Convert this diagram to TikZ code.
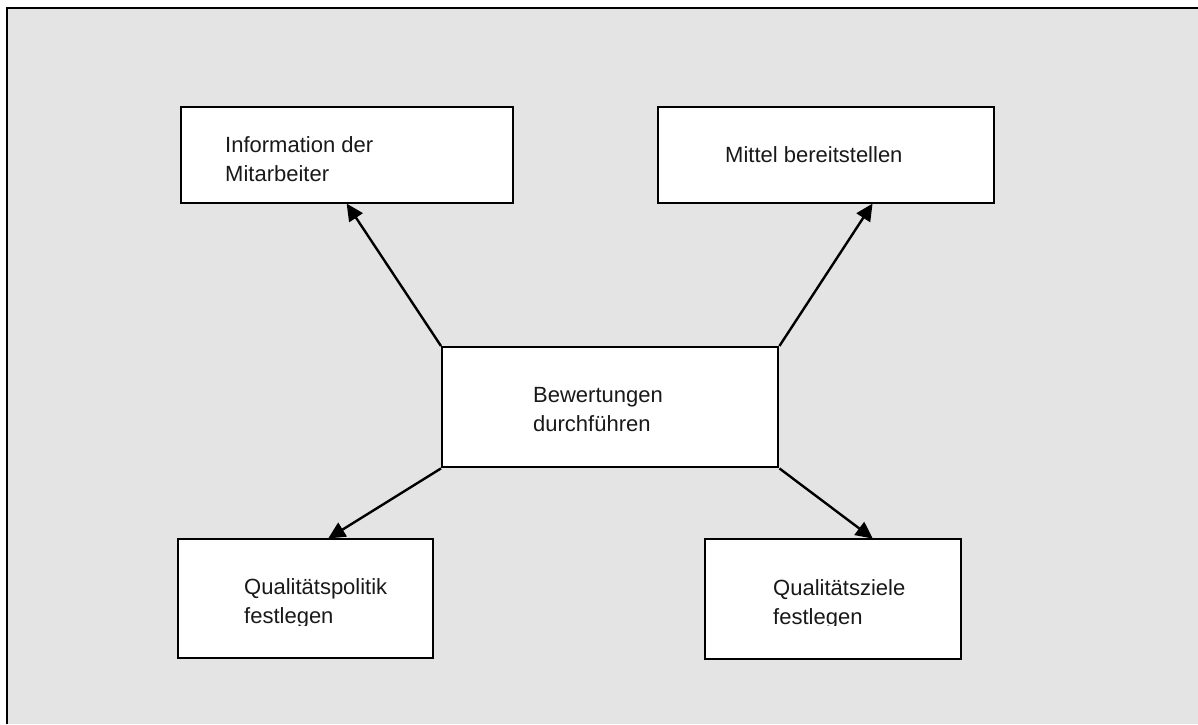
\documentclass[tikz,border=0pt]{standalone}
\usepackage{fontspec}
\setmainfont{Liberation Sans}
\usetikzlibrary{arrows.meta}
\definecolor{bggray}{RGB}{228,228,228}
\tikzset{
  box/.style={draw=black, line width=2.4pt, fill=white, rectangle, inner sep=0pt},
  lbl/.style={anchor=base west, inner sep=0pt, align=left, font=\fontsize{22}{29}\selectfont, text=black!90},
  arr/.style={line width=2.4pt, -{Triangle[length=17pt,width=16pt]}, shorten >=-1pt}
}
\begin{document}
\begin{tikzpicture}[x=1pt,y=-1pt]
\useasboundingbox (0,0) rectangle (1198,724);
\fill[bggray] (7,8) rectangle (1198,724);
\draw[line width=2.4pt] (7,724) -- (7,8) -- (1198,8);

% boxes
\node[box, minimum width=332pt, minimum height=96pt, anchor=north west] (b1) at (180,106) {};
\node[box, minimum width=336pt, minimum height=96pt, anchor=north west] (b2) at (657,106) {};
\node[box, minimum width=336pt, minimum height=120pt, anchor=north west] (c) at (441,346) {};
\node[box, minimum width=255pt, minimum height=119pt, anchor=north west] (b3) at (177,538) {};
\node[box, minimum width=256pt, minimum height=120pt, anchor=north west] (b4) at (704,538) {};

% texts (base anchor = baseline of last line)
\node[lbl] (t1) at (225,181.7) {Information der\\Mitarbeiter};
\node[lbl] (t2) at (725,162.7) {Mittel bereitstellen};
\node[lbl] (tc) at (533,431.7) {Bewertungen\\durchführen};
\begin{scope}
\clip (0,0) rectangle (1198,625);
\node[lbl] (t3) at (244,623) {Qualitätspolitik\\festlegen};
\node[lbl] (t4) at (773,624) {Qualitätsziele\\festlegen};
\end{scope}

% connectors
\draw[arr] (c.north west) -- (b1.south);
\draw[arr] (c.north east) -- ([xshift=215pt]b2.south west);
\draw[arr] (c.south west) -- ([xshift=152pt]b3.north west);
\draw[arr] (c.south east) -- ([xshift=168pt]b4.north west);
\end{tikzpicture}
\end{document}
